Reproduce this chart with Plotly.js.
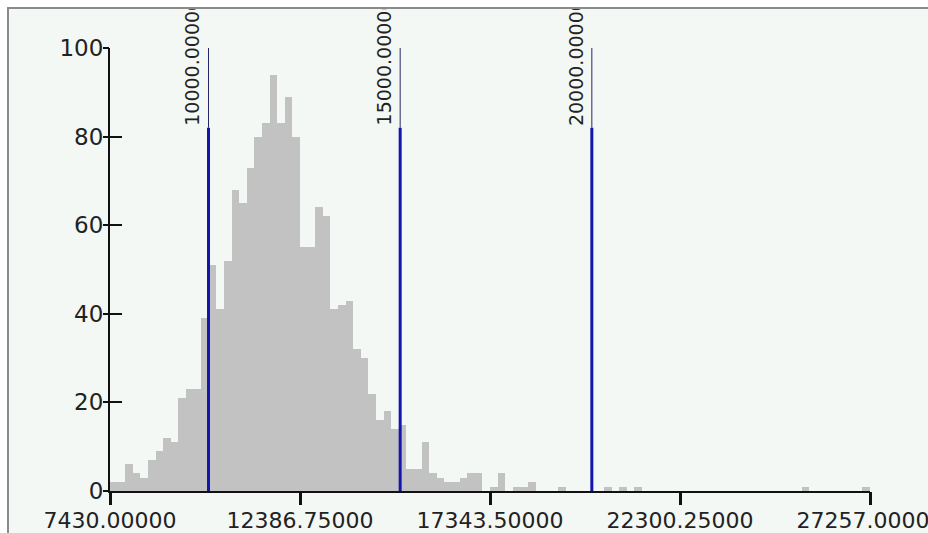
<!DOCTYPE html>
<html>
<head>
<meta charset="utf-8">
<script src="https://cdn.plot.ly/plotly-3.0.1.min.js"></script>
<style>
  html, body { margin: 0; padding: 0; background: #ffffff; overflow: hidden; }
  #wrap { position: relative; width: 928px; height: 533px; overflow: hidden; }
  #chart { position: absolute; left: 0; top: 0; width: 928px; height: 533px; }
  .ov { position: absolute; pointer-events: none; z-index: 5; }
</style>
</head>
<body>
<div id="wrap">
  <div id="chart"></div>
  <div class="ov" style="left:0;top:0;width:928px;height:7px;background:#ffffff;"></div>
  <div class="ov" style="left:0;top:0;width:7px;height:533px;background:#ffffff;"></div>
  <div class="ov" style="left:7px;top:7px;width:921px;height:2px;background:#8a8a8a;"></div>
  <div class="ov" style="left:7px;top:7px;width:2px;height:526px;background:#8a8a8a;"></div>
</div>
<script>
// ---- data ----
const xMin = 7430.0;
const xMax = 27257.0;
const binCount = 100;
const counts = [
  2, 2, 6, 4, 3, 7, 9, 12, 11, 21,
  23, 23, 39, 51, 41, 52, 68, 65, 73, 80,
  83, 94, 83, 89, 80, 55, 55, 64, 62, 41,
  42, 43, 32, 30, 22, 16, 18, 14, 15, 5,
  5, 11, 4, 3, 2, 2, 3, 4, 4, 0,
  1, 4, 0, 1, 1, 2, 0, 0, 0, 1,
  0, 0, 0, 0, 0, 1, 0, 1, 0, 1,
  0, 0, 0, 0, 0, 0, 0, 0, 0, 0,
  0, 0, 0, 0, 0, 0, 0, 0, 0, 0,
  0, 1, 0, 0, 0, 0, 0, 0, 0, 1
];
const thresholds = [10000, 15000, 20000];
const thresholdLabels = ["10000.00000", "15000.00000", "20000.00000"];
const xTickVals = [7430.0, 12386.75, 17343.5, 22300.25, 27257.0];
const xTickText = ["7430.00000", "12386.75000", "17343.50000", "22300.25000", "27257.00000"];
const yTickVals = [0, 20, 40, 60, 80, 100];
const yTickText = ["0", "20", "40", "60", "80", "100"];

// ---- chart ----
const binW = (xMax - xMin) / binCount;
const FONT = "DejaVu Sans, Arial, sans-serif";
const lineSplit = 82;   // where the thick marker line turns thin
const lineTop = 100;

const traces = [{
  type: "bar",
  x0: xMin + binW / 2,
  dx: binW,
  y: counts,
  width: binW,
  marker: { color: "#c2c2c2", line: { width: 0 } },
  hoverinfo: "skip",
  showlegend: false
}];

thresholds.forEach(t => {
  traces.push({
    type: "scatter", mode: "lines",
    x: [t, t], y: [0, lineSplit],
    line: { color: "#1414b0", width: 3 },
    hoverinfo: "skip", showlegend: false, cliponaxis: false
  });
  traces.push({
    type: "scatter", mode: "lines",
    x: [t, t], y: [lineSplit, lineTop],
    line: { color: "#26266a", width: 1 },
    hoverinfo: "skip", showlegend: false, cliponaxis: false
  });
});

// invisible trace carrying the secondary tick axes
traces.push({
  type: "scatter", mode: "markers", x: [xMin], y: [0], xaxis: "x2", yaxis: "y2",
  marker: { opacity: 0 }, hoverinfo: "skip", showlegend: false
});

const annotations = thresholds.map((t, i) => ({
  x: t, y: lineSplit, xref: "x", yref: "y",
  text: thresholdLabels[i],
  showarrow: false,
  textangle: -90,
  xanchor: "right", yanchor: "bottom",
  xshift: -3, yshift: 0,
  font: { family: FONT, size: 19, color: "#222222" }
}));

const layout = {
  width: 928, height: 533,
  margin: { l: 110, r: 58, t: 48, b: 42, pad: 0 },
  paper_bgcolor: "#f4f8f4",
  plot_bgcolor: "rgba(0,0,0,0)",
  bargap: 0,
  showlegend: false,
  xaxis: {
    range: [xMin, xMax],
    tickmode: "array", tickvals: xTickVals, ticktext: xTickText,
    ticks: "outside", ticklen: 9, tickwidth: 3, tickcolor: "#111111",
    ticklabeloverflow: "allow",
    showline: true, linecolor: "#111111", linewidth: 2,
    showgrid: false, zeroline: false,
    tickfont: { family: FONT, size: 22, color: "#222222" },
    fixedrange: true
  },
  xaxis2: {
    overlaying: "x", anchor: "y", side: "bottom",
    range: [xMin, xMax],
    tickmode: "array", tickvals: xTickVals,
    ticks: "outside", ticklen: 13, tickwidth: 3, tickcolor: "#111111",
    showticklabels: false, showline: false, showgrid: false, zeroline: false,
    fixedrange: true
  },
  yaxis: {
    range: [0, 100],
    tickmode: "array", tickvals: yTickVals, ticktext: yTickText,
    ticks: "inside", ticklen: 12, tickwidth: 2, tickcolor: "#111111",
    showline: true, linecolor: "#111111", linewidth: 2,
    showgrid: false, zeroline: false,
    tickfont: { family: FONT, size: 23, color: "#222222" },
    fixedrange: true
  },
  yaxis2: {
    overlaying: "y", side: "left", anchor: "x", range: [0, 100],
    tickmode: "array", tickvals: yTickVals,
    ticks: "outside", ticklen: 6, tickwidth: 2, tickcolor: "#111111",
    showticklabels: false, showline: false, showgrid: false, zeroline: false,
    fixedrange: true
  },
  annotations: annotations
};

Plotly.newPlot("chart", traces, layout, { displayModeBar: false, staticPlot: true });
</script>
</body>
</html>
